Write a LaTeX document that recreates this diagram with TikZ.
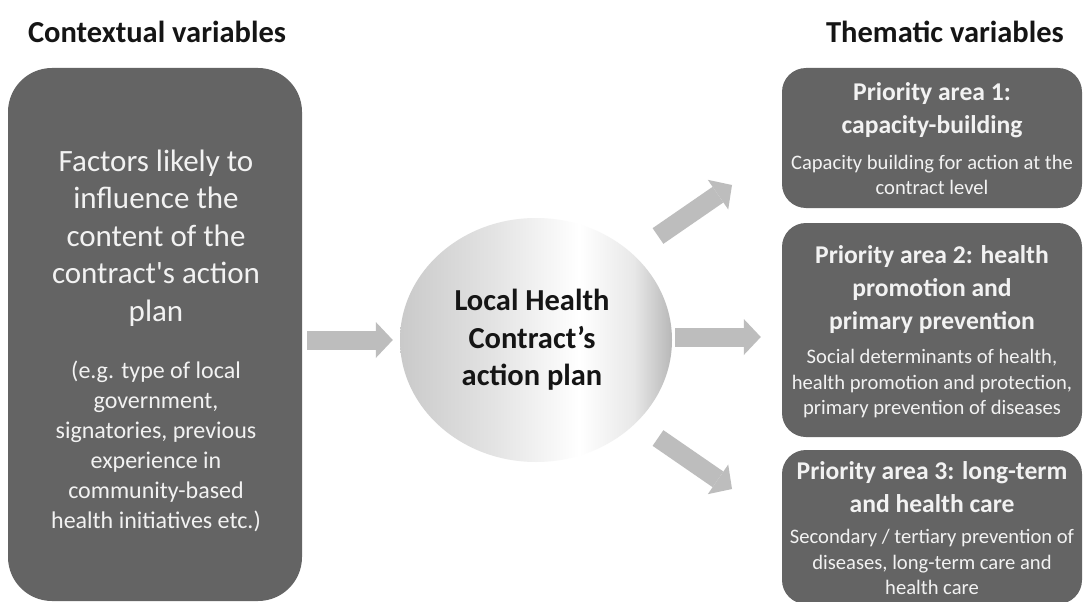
\documentclass[tikz,border=0pt]{standalone}
\usepackage{fontspec}
\newfontfamily\carl{Carlito}
\usetikzlibrary{arrows.meta,shapes.geometric}
\definecolor{boxgray}{HTML}{646464}
\definecolor{arrowgray}{HTML}{BDBDBD}
\definecolor{boxtext}{HTML}{F2F2F2}
\definecolor{titletext}{HTML}{151515}
\pgfdeclarehorizontalshading{orb}{100bp}{color(0bp)=(black!21); color(25bp)=(black!21); color(42bp)=(black!11); color(58bp)=(white); color(68bp)=(black!9); color(75bp)=(black!28); color(100bp)=(black!28)}
\tikzset{
  darkbox/.style={fill=boxgray, draw=none, rectangle, inner sep=0pt},
  heading/.style={font=\carl\bfseries\fontsize{30.5}{34}\selectfont, text=titletext},
  bigtxt/.style={font=\carl\fontsize{31}{37.5}\selectfont, text=boxtext, align=center},
  midtxt/.style={font=\carl\fontsize{24}{30}\selectfont, text=boxtext, align=center},
  boxtitle/.style={font=\carl\bfseries\fontsize{25.6}{33}\selectfont, text=boxtext, align=center},
  boxdesc/.style={font=\carl\fontsize{20.6}{25.5}\selectfont, text=boxtext, align=center},
  blockarrow/.style={draw=arrowgray, line width=19pt, -{Triangle[length=17pt,width=36pt,line width=0pt,fill=arrowgray]}},
}
\begin{document}
\begin{tikzpicture}[x=1pt,y=-1pt]
\useasboundingbox (0,0) rectangle (1088,602);
\clip (0,0) rectangle (1088,602);
\fill[white] (0,0) rectangle (1088,602);

% headings
\node[heading] (ctxtitle) at (157,32) {Contextual variables};
\node[heading] (themtitle) at (945,32) {Thematic variables};

% left box
\node[darkbox, rounded corners=44pt, minimum width=294pt, minimum height=533pt] (ctx) at (155,334.5) {};
\node[bigtxt] (ctxmain) at (156,238) {Factors likely to\\influence the\\content of the\\contract's action\\plan};
\node[midtxt] (ctxsub) at (156,446) {(e.g. type of local\\government,\\signatories, previous\\experience in\\community-based\\health initiatives etc.)};

% central orb
\node[ellipse, minimum width=272pt, minimum height=244pt, inner sep=0pt, shading=orb] (plan) at (536,340) {};
\node[font=\carl\bfseries\fontsize{30.5}{37.5}\selectfont, text=titletext, align=center] (plantxt) at (532,340) {Local Health\\Contract’s\\action plan};

% right boxes
\node[darkbox, rounded corners=24pt, minimum width=300pt, minimum height=140pt] (box1) at (932,138) {};
\node[boxtitle] (b1t) at (932,110) {Priority area 1:\\capacity-building};
\node[boxdesc] (b1d) at (932,175) {Capacity building for action at the\\contract level};

\node[darkbox, rounded corners=24pt, minimum width=300pt, minimum height=214pt] (box2) at (932,330) {};
\node[boxtitle] (b2t) at (932,290) {Priority area 2: health\\promotion and\\primary prevention};
\node[boxdesc] (b2d) at (932,384) {Social determinants of health,\\health promotion and protection,\\primary prevention of diseases};

\node[darkbox, rounded corners=24pt, minimum width=300pt, minimum height=154pt] (box3) at (932,527) {};
\node[boxtitle] (b3t) at (932,487) {Priority area 3: long-term\\and health care};
\node[boxdesc] (b3d) at (932,562) {Secondary / tertiary prevention of\\diseases, long-term care and\\health care};

% arrows
\coordinate (upS) at (658,236);
\coordinate (upE) at (732,185);
\coordinate (loS) at (658,438);
\coordinate (loE) at (732,489);
\draw[blockarrow, shorten <=5pt, shorten >=7pt] (ctx.east |- plan.center) -- (plan.west);
\draw[blockarrow, shorten <=3pt, shorten >=21pt] (plan.east |- 0,337) -- (box2.west |- 0,337);
\draw[blockarrow] (upS) -- (upE);
\draw[blockarrow] (loS) -- (loE);
\end{tikzpicture}
\end{document}
